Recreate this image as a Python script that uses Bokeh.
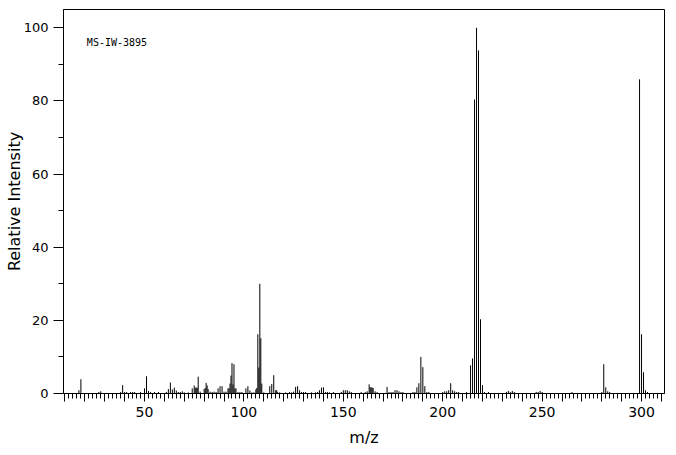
from bokeh.plotting import figure
from bokeh.models import FixedTicker, CustomJSTickFormatter, Label, Range1d, ColumnDataSource
from bokeh.embed import file_html
from bokeh.resources import INLINE

# m/z positions and relative intensities
mz = [17, 18, 27, 28, 38, 39, 40, 41, 43, 44, 45, 48, 50, 51, 52, 53, 55, 57,
      61, 62, 63, 64, 65, 66, 67, 68, 69, 70, 72, 74, 75, 75.5, 76, 76.5, 77, 78,
      80, 80.5, 81, 81.5, 82, 83, 84, 85, 86, 87, 88, 89, 90, 91,
      92, 92.5, 93, 93.5, 94, 94.5, 95, 95.5, 96, 97, 98, 99,
      101, 102, 103, 104, 105, 106, 106.5, 107, 107.5, 108, 108.5, 109, 110,
      113, 114, 115, 116, 116.5, 117, 118, 121, 123, 124, 125, 126, 127, 128,
      129, 130, 131, 134, 136, 137, 138, 139, 140, 141, 142, 143, 145,
      149, 150, 151, 152, 153, 154, 159, 161, 162, 163, 163.5, 164, 164.5,
      165, 166, 167, 172, 173, 174, 175, 176, 177, 178, 179, 180,
      185, 186, 187, 188, 189, 190, 191, 192, 193,
      200, 201, 202, 203, 204, 205, 206, 207, 208, 212,
      214, 215, 216, 217, 218, 219, 220, 221, 223,
      232, 233, 234, 235, 236, 247, 248, 249, 250, 265,
      280, 281, 282, 283, 284, 299, 300, 301, 302, 303]
intensity = [0.9, 3.9, 0.4, 0.6, 0.4, 2.3, 0.4, 0.4, 0.4, 0.4, 0.4, 0.4, 1.4, 4.7, 0.7, 0.4, 0.4, 0.4,
             0.4, 1.2, 3.0, 1.1, 1.6, 0.8, 0.4, 0.4, 0.6, 0.3, 0.3, 1.4, 2.2, 1.6, 1.6, 1.6, 4.6, 0.5,
             1.2, 1.5, 2.9, 2.2, 1.2, 0.5, 0.4, 0.5, 0.4, 1.4, 2.0, 2.0, 0.5, 0.5,
             1.4, 1.4, 2.7, 4.9, 8.3, 2.5, 8.0, 1.4, 1.4, 0.4, 0.4, 0.4,
             1.4, 2.0, 0.8, 0.3, 0.3, 1.1, 1.5, 16.2, 7.1, 30.0, 15.1, 2.7, 0.3,
             2.0, 2.6, 5.0, 0.9, 0.9, 0.4, 0.3, 0.3, 0.4, 0.3, 0.5, 1.8, 2.0, 0.9,
             0.4, 0.4, 0.4, 0.3, 0.3, 0.4, 0.9, 1.6, 1.7, 0.4, 0.4, 0.3, 0.4,
             0.4, 0.9, 0.9, 0.9, 0.6, 0.4, 0.4, 0.4, 0.6, 2.5, 1.7, 1.7, 1.6,
             1.5, 0.6, 0.4, 1.8, 0.4, 0.4, 0.4, 0.9, 0.9, 0.6, 0.4, 0.4,
             0.4, 0.4, 1.7, 2.8, 10.0, 7.2, 2.0, 0.4, 0.4,
             0.4, 0.6, 0.6, 0.9, 2.8, 0.9, 0.6, 0.4, 0.4, 0.4,
             7.7, 9.6, 80.4, 100.0, 93.8, 20.3, 2.3, 0.4, 0.4,
             0.4, 0.7, 0.4, 0.7, 0.4, 0.4, 0.4, 0.7, 0.4, 0.4,
             0.4, 8.0, 1.7, 0.6, 0.4, 85.9, 16.2, 5.8, 0.9, 0.4]

x_major_ticks = list(range(10, 320, 10))
x_minor_ticks = list(range(10, 312, 2))
y_major_ticks = [0, 20, 40, 60, 80, 100]
y_minor_ticks = [10, 30, 50, 70, 90]
spectrum_id = "MS-IW-3895"

src = ColumnDataSource(data=dict(mz=mz, inten=intensity, base=[0] * len(mz)))

p = figure(width=668, height=451, x_range=Range1d(9.25, 311.55), y_range=Range1d(0, 105),
           output_backend="svg", toolbar_location=None,
           min_border_left=63, min_border_right=4, min_border_top=9, min_border_bottom=58)
p.background_fill_color = "white"
p.border_fill_color = "white"
p.grid.visible = False
p.outline_line_color = "black"
p.outline_line_width = 1
p.outline_line_alpha = 1

p.segment(x0="mz", y0="base", x1="mz", y1="inten", source=src, line_color="black", line_width=1)

xa = p.xaxis[0]
xa.ticker = FixedTicker(ticks=x_major_ticks, minor_ticks=x_minor_ticks)
xa.formatter = CustomJSTickFormatter(code="return (Math.round(tick) % 50 === 0) ? Math.round(tick).toString() : '';")
xa.major_tick_out = 8
xa.major_tick_in = 0
xa.minor_tick_out = 5
xa.minor_tick_in = 0
xa.axis_label = "m/z"
xa.axis_label_standoff = 8
xa.major_label_text_font_size = "14px"

ya = p.yaxis[0]
ya.ticker = FixedTicker(ticks=y_major_ticks, minor_ticks=y_minor_ticks)
ya.major_tick_out = 10
ya.major_tick_in = 0
ya.minor_tick_out = 5
ya.minor_tick_in = 0
ya.axis_label = "Relative Intensity"
ya.axis_label_standoff = -3
ya.major_label_text_font_size = "13px"

for ax in (xa, ya):
    ax.axis_line_color = "black"
    ax.major_tick_line_color = "black"
    ax.minor_tick_line_color = "black"
    ax.major_label_text_font = "DejaVu Sans"
    ax.major_label_text_color = "black"
    ax.major_label_standoff = 5
    ax.axis_label_text_font = "DejaVu Sans"
    ax.axis_label_text_font_size = "16px"
    ax.axis_label_text_font_style = "normal"
    ax.axis_label_text_color = "black"

lbl = Label(x=21, y=96.1, text=spectrum_id, text_font="DejaVu Sans Mono",
            text_font_size="10px", text_baseline="middle", text_color="black")
p.add_layout(lbl)

open("out.html", "w").write(file_html(p, INLINE))
